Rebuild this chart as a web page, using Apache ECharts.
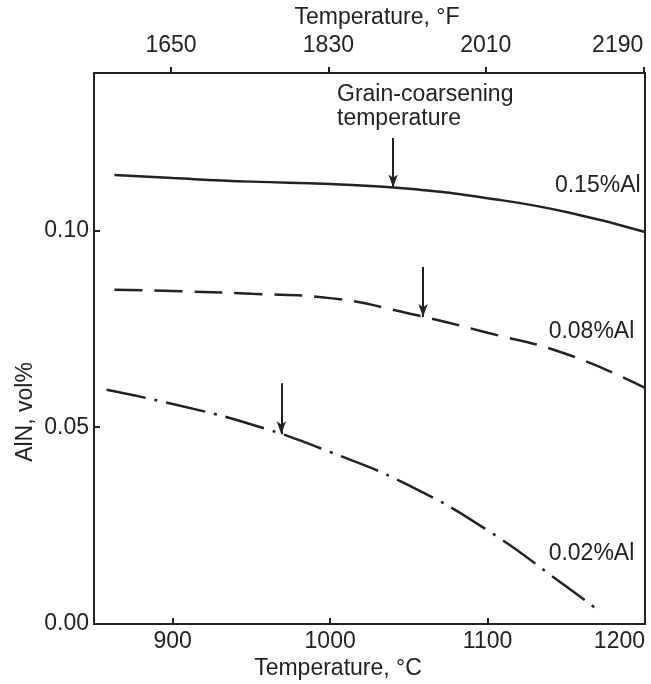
<!DOCTYPE html>
<html>
<head>
<meta charset="utf-8">
<script src="https://cdn.jsdelivr.net/npm/echarts@6/dist/echarts.min.js"></script>
<style>
  html, body { margin: 0; padding: 0; background: #fff; }
  #chart { width: 651px; height: 684px; }
</style>
</head>
<body>
<div id="chart"></div>
<script>
// AlN volume fraction vs. temperature for three aluminium contents
const celsiusTicks = [900, 1000, 1100, 1200];
const fahrenheitTicks = [1650, 1830, 2010, 2190];
const yTicks = [0.00, 0.05, 0.10];

const temps015 = [863, 900, 950, 1000, 1050, 1100, 1150, 1200];
const vals015  = [0.1141, 0.1133, 0.1124, 0.1118, 0.1106, 0.1082, 0.1047, 0.0996];

const temps008 = [863, 900, 950, 1000, 1050, 1100, 1150, 1200];
const vals008  = [0.0849, 0.0846, 0.0839, 0.0828, 0.0789, 0.0740, 0.0686, 0.0600];

const temps002 = [858, 900, 950, 1000, 1050, 1100, 1150, 1170];
const vals002  = [0.0595, 0.0559, 0.0507, 0.0437, 0.0352, 0.0238, 0.0095, 0.0036];

// grain-coarsening temperatures: [temperature, arrow top, arrow tip]
const arrow015 = [1040, 0.1235, 0.1109];
const arrow008 = [1059, 0.0907, 0.0780];
const arrow002 = [969, 0.0612, 0.0482];

const seriesNames = ['0.15%Al', '0.08%Al', '0.02%Al'];
const labelPos = [[1170, 0.1115], [1166, 0.0744], [1166, 0.0180]];

const FONT = '"Liberation Sans", Arial, Helvetica, sans-serif';
const INK = '#222';
const FS = 23;

function pairs(xs, ys) { return xs.map((x, i) => [x, ys[i]]); }

function arrowLine(a) {
  return {
    silent: true,
    symbol: ['none', 'arrow'],
    symbolSize: [7, 13],
    label: { show: false },
    lineStyle: { color: INK, width: 2, type: 'solid' },
    data: [[{ coord: [a[0], a[1]] }, { coord: [a[0], a[2]] }]]
  };
}

function curveLabel(i) {
  return {
    silent: true,
    symbol: 'rect',
    symbolSize: 1,
    itemStyle: { color: 'rgba(0,0,0,0)' },
    data: [{
      coord: labelPos[i],
      label: {
        show: true, position: 'inside', formatter: seriesNames[i],
        fontFamily: FONT, fontSize: FS, color: INK
      }
    }]
  };
}

const toF = c => c * 1.8 + 32;

const chart = echarts.init(document.getElementById('chart'));
chart.setOption({
  animation: false,
  backgroundColor: '#fff',
  grid: {
    left: 94, right: 6, top: 73, bottom: 60,
    show: true, borderColor: INK, borderWidth: 2
  },
  xAxis: [
    {
      type: 'value', position: 'bottom', min: 850, max: 1200,
      axisLine: { lineStyle: { color: INK, width: 2 } },
      axisTick: { inside: true, length: 6, lineStyle: { color: INK, width: 2 }, customValues: celsiusTicks },
      axisLabel: {
        fontFamily: FONT, fontSize: FS, color: INK, margin: 6,
        customValues: celsiusTicks, alignMaxLabel: 'right', formatter: v => String(v)
      },
      splitLine: { show: false }
    },
    {
      type: 'value', position: 'top', min: toF(850), max: toF(1200),
      axisLine: { lineStyle: { color: INK, width: 2 } },
      axisTick: { inside: false, length: 6, lineStyle: { color: INK, width: 2 }, customValues: fahrenheitTicks },
      axisLabel: {
        fontFamily: FONT, fontSize: FS, color: INK, margin: 16,
        customValues: fahrenheitTicks, alignMaxLabel: 'right', formatter: v => String(v)
      },
      splitLine: { show: false }
    }
  ],
  yAxis: {
    type: 'value', min: 0, max: 0.14,
    axisLine: { show: true, lineStyle: { color: INK, width: 2 } },
    axisTick: { inside: true, length: 6, lineStyle: { color: INK, width: 2 }, customValues: yTicks },
    axisLabel: {
      fontFamily: FONT, fontSize: FS, color: INK, margin: 5,
      customValues: yTicks, formatter: v => v.toFixed(2)
    },
    splitLine: { show: false }
  },
  graphic: [
    {
      type: 'text', x: 26, y: 412, rotation: Math.PI / 2,
      style: { text: 'AlN, vol%', font: FS + 'px ' + FONT, fill: INK, align: 'center', verticalAlign: 'middle' }
    },
    {
      type: 'text', x: 377, y: 18,
      style: { text: 'Temperature, °F', font: FS + 'px ' + FONT, fill: INK, align: 'center', verticalAlign: 'middle' }
    },
    {
      type: 'text', x: 338, y: 669,
      style: { text: 'Temperature, °C', font: FS + 'px ' + FONT, fill: INK, align: 'center', verticalAlign: 'middle' }
    },
    {
      type: 'text', x: 337, y: 95,
      style: { text: 'Grain-coarsening', font: FS + 'px ' + FONT, fill: INK, align: 'left', verticalAlign: 'middle' }
    },
    {
      type: 'text', x: 337, y: 119,
      style: { text: 'temperature', font: FS + 'px ' + FONT, fill: INK, align: 'left', verticalAlign: 'middle' }
    }
  ],
  series: [
    {
      name: seriesNames[0], type: 'line', smooth: true, showSymbol: false,
      lineStyle: { color: INK, width: 2.5, type: 'solid' },
      data: pairs(temps015, vals015),
      markLine: arrowLine(arrow015),
      markPoint: curveLabel(0)
    },
    {
      name: seriesNames[1], type: 'line', smooth: true, showSymbol: false,
      lineStyle: { color: INK, width: 2.5, type: [28, 12] },
      data: pairs(temps008, vals008),
      markLine: arrowLine(arrow008),
      markPoint: curveLabel(1)
    },
    {
      name: seriesNames[2], type: 'line', smooth: true, showSymbol: false,
      lineStyle: { color: INK, width: 2.5, type: [40, 9, 3, 9] },
      data: pairs(temps002, vals002),
      markLine: arrowLine(arrow002),
      markPoint: curveLabel(2)
    }
  ]
});
</script>
</body>
</html>
